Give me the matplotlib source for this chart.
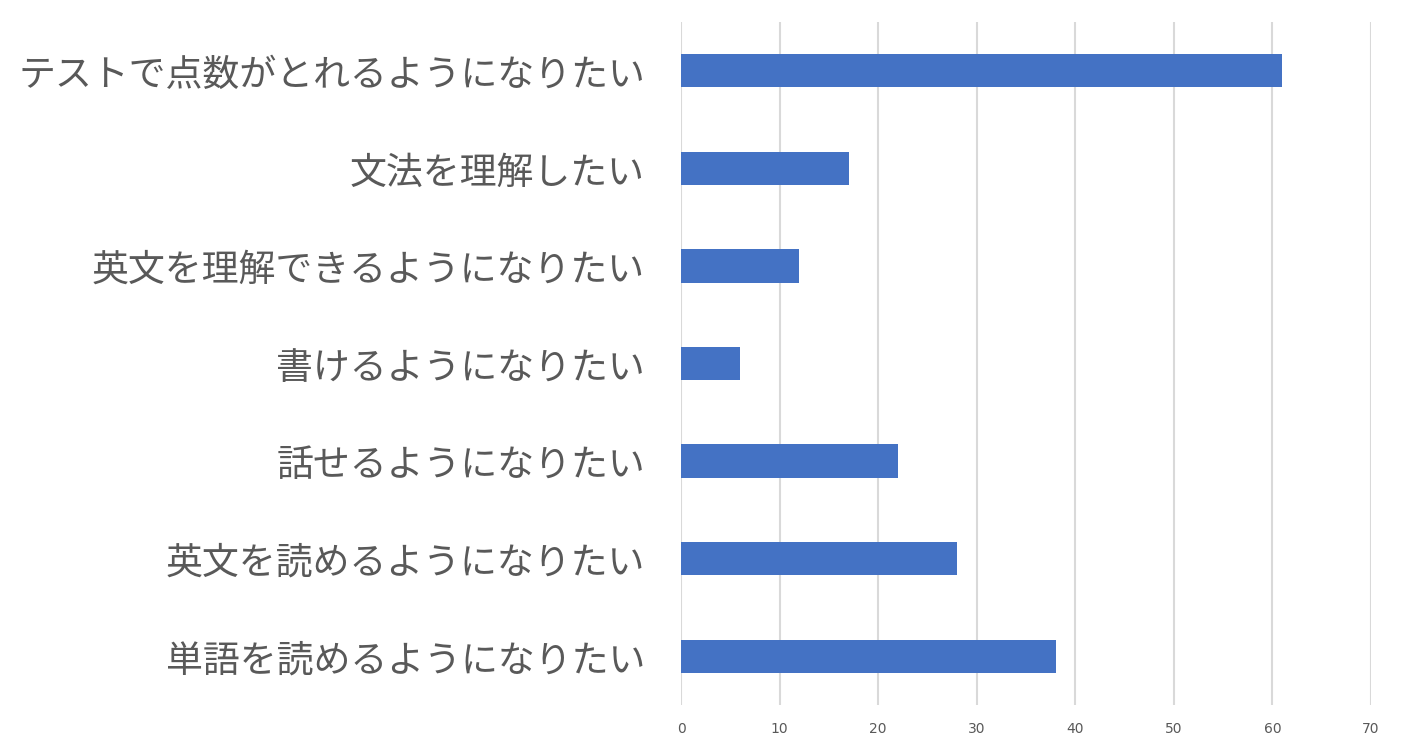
import matplotlib
matplotlib.use('Agg')
import matplotlib.pyplot as plt

# data, top to bottom as in the chart
labels = ['テストで点数がとれるようになりたい', '文法を理解したい', '英文を理解できるようになりたい',
          '書けるようになりたい', '話せるようになりたい', '英文を読めるようになりたい',
          '単語を読めるようになりたい']
counts = [61, 17, 12, 6, 22, 28, 38]
xticks = [0, 10, 20, 30, 40, 50, 60, 70]

plt.rcParams['font.family'] = ['Noto Sans CJK JP', 'DejaVu Sans']

fig = plt.figure(figsize=(14.08, 7.55), dpi=100)
ax = fig.add_axes([681 / 1408, 1 - 705 / 755, 690 / 1408, 683 / 755])

pos = list(range(len(labels)))
ax.barh(pos, counts, height=0.34, color='#4472C4', zorder=3)

ax.set_ylim(len(labels) - 0.5, -0.5)
ax.set_xlim(0, 70)
ax.set_xticks(xticks)
ax.set_xticklabels([str(t) for t in xticks], fontsize=10, color='#595959',
                   family=['Liberation Sans Narrow', 'DejaVu Sans'])
ax.set_yticks(pos)
ax.set_yticklabels(labels, fontsize=26.6, color='#595959')

ax.grid(axis='x', color='#D9D9D9', linewidth=1.5, zorder=0)
for s in ax.spines.values():
    s.set_visible(False)
ax.tick_params(axis='both', length=0)
ax.tick_params(axis='y', pad=26)
ax.tick_params(axis='x', pad=12)

fig.savefig('out.png', dpi=100)
